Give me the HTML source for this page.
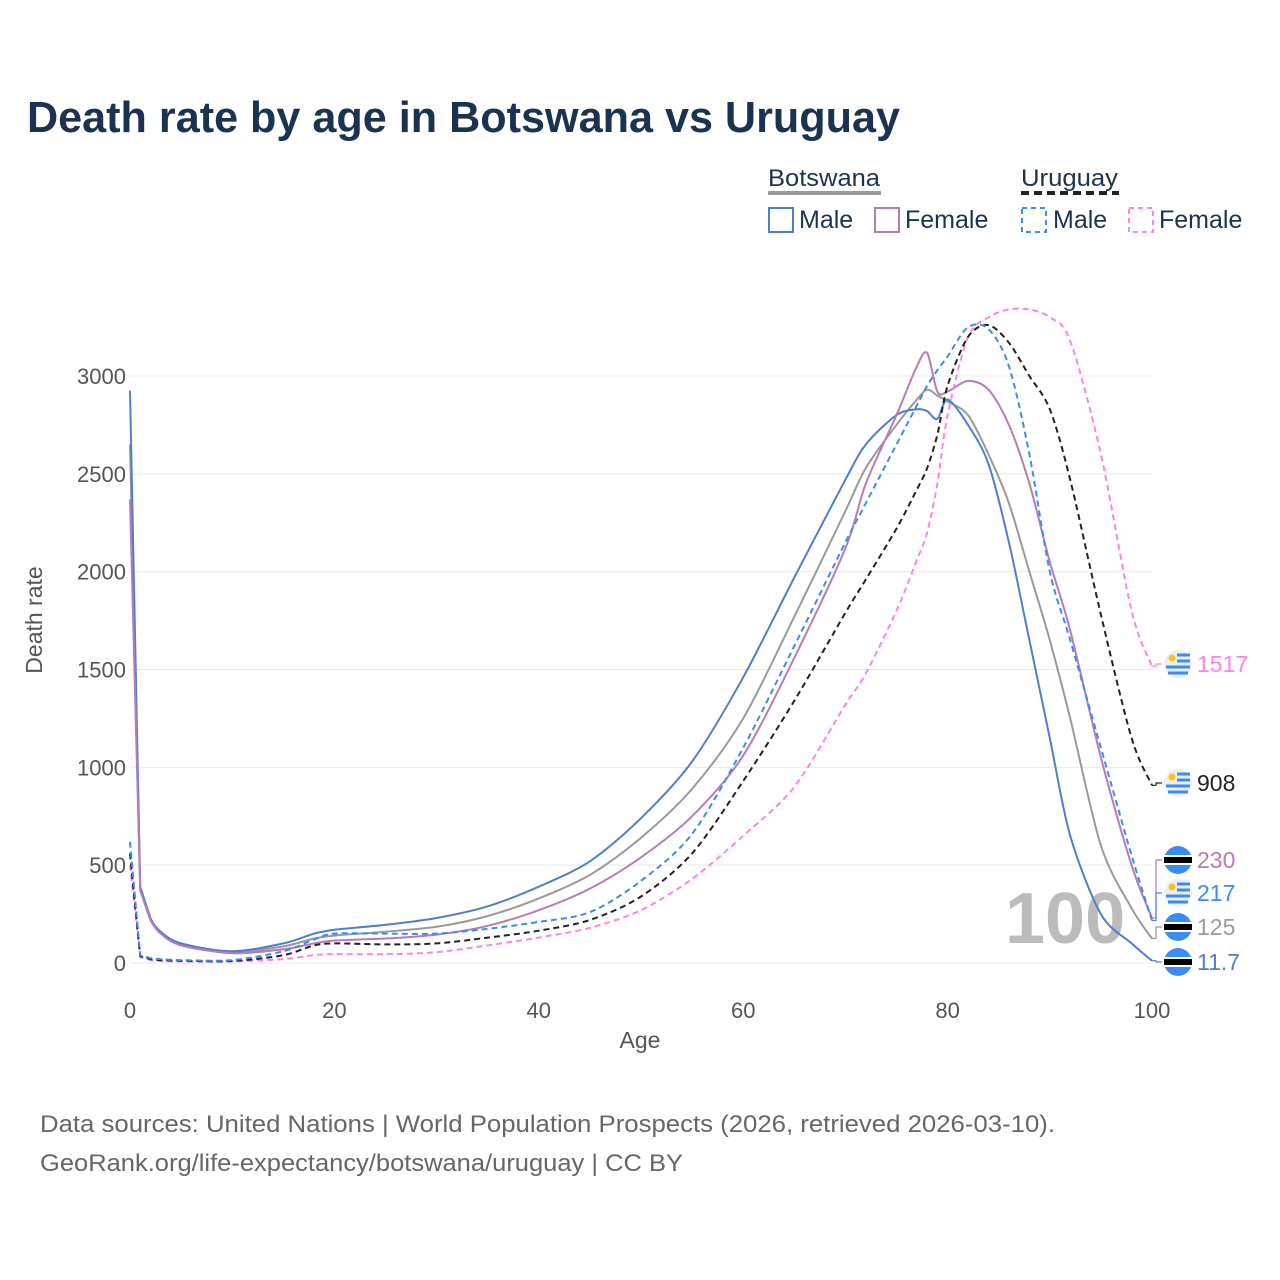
<!DOCTYPE html>
<html><head><meta charset="utf-8"><style>
body{margin:0;background:#fff}
svg{display:block;font-family:"Liberation Sans",sans-serif}
</style></head><body>
<svg id="c" width="1280" height="1280" viewBox="0 0 1280 1280">
<text x="27" y="132" font-size="44" font-weight="bold" fill="#1b3251" textLength="873" lengthAdjust="spacingAndGlyphs">Death rate by age in Botswana vs Uruguay</text>
<g>
<text x="768" y="186" font-size="24" fill="#1b3251" textLength="112" lengthAdjust="spacingAndGlyphs">Botswana</text>
<line x1="768" y1="193" x2="881" y2="193" stroke="#999" stroke-width="4"/>
<text x="1021" y="186" font-size="24" fill="#1b3251" textLength="97" lengthAdjust="spacingAndGlyphs">Uruguay</text>
<line x1="1021" y1="193" x2="1119" y2="193" stroke="#222" stroke-width="4" stroke-dasharray="8,5"/>
<g><rect x="769" y="208" width="24" height="24" fill="none" stroke="#4e7fcf" stroke-width="2"/><text x="799" y="228" font-size="25" fill="#1b3251">Male</text></g>
<g><rect x="875" y="208" width="24" height="24" fill="none" stroke="#b87bb5" stroke-width="2"/><text x="905" y="228" font-size="25" fill="#1b3251">Female</text></g>
<g><rect x="1022" y="208" width="24" height="24" fill="none" stroke="#3a8cf5" stroke-width="2" stroke-dasharray="5,4"/><text x="1053" y="228" font-size="25" fill="#1b3251">Male</text></g>
<g><rect x="1129" y="208" width="24" height="24" fill="none" stroke="#ff80f0" stroke-width="2" stroke-dasharray="5,4"/><text x="1159" y="228" font-size="25" fill="#1b3251">Female</text></g>
</g>
<g id="grid"></g>
<g id="axes"></g>
<text x="1005" y="943" font-size="72" font-weight="bold" fill="#bbb">100</text>
<g id="lines"></g>
<g id="labels"></g>
<text x="42" y="620" font-size="23" fill="#555" text-anchor="middle" transform="rotate(-90 42 620)">Death rate</text>
<text x="640" y="1048" font-size="23" fill="#555" text-anchor="middle">Age</text>
<text x="40" y="1132" font-size="24" fill="#666" textLength="1015" lengthAdjust="spacingAndGlyphs">Data sources: United Nations | World Population Prospects (2026, retrieved 2026-03-10).</text>
<text x="40" y="1171" font-size="24" fill="#666" textLength="643" lengthAdjust="spacingAndGlyphs">GeoRank.org/life-expectancy/botswana/uruguay | CC BY</text>
</svg>
<script>
const ages=[0,1,2,3,5,10,15,18,20,25,30,35,40,45,50,55,60,65,70,72,75,77,78,79,80,82,84,86,88,90,92,95,98,100];
const bwMale=[2925,390,230,160,100,60,100,150,170,195,230,290,390,520,740,1030,1460,1970,2470,2650,2800,2830,2820,2780,2880,2750,2550,2150,1650,1150,650,250,100,11.7];
const bwFemale=[2370,370,220,150,90,50,70,100,115,125,145,190,270,380,540,750,1060,1560,2120,2450,2800,3050,3117,2920,2920,2975,2930,2750,2450,2050,1700,1050,500,230];
const bwTotal=[2650,380,225,155,95,55,85,125,140,160,185,240,330,450,640,890,1250,1770,2310,2530,2750,2880,2930,2900,2870,2800,2600,2350,2000,1650,1250,600,280,125];
const uyMale=[620,40,25,20,15,15,60,120,150,150,150,175,210,260,420,660,1100,1620,2150,2350,2650,2850,2950,3030,3100,3250,3240,3050,2600,2000,1650,1100,550,217];
const uyTotal=[560,35,20,15,12,10,40,90,100,95,100,130,165,220,340,560,930,1340,1790,1960,2220,2420,2530,2700,2950,3200,3260,3170,3000,2830,2470,1780,1150,908];
const uyFemale=[500,30,15,10,8,8,20,40,45,45,55,90,130,180,270,430,650,900,1320,1480,1800,2060,2200,2450,2800,3200,3300,3340,3340,3300,3180,2600,1800,1517];
const yTicks=[0,500,1000,1500,2000,2500,3000];
const xTicks=[0,20,40,60,80,100];
const X=a=>130+a*10.22, Y=v=>963-v*0.19567;
const NS="http://www.w3.org/2000/svg";
function mk(t,p,at){const e=document.createElementNS(NS,t);for(const k in at)e.setAttribute(k,at[k]);document.getElementById(p).appendChild(e);return e;}
function smooth(pts){let d='M'+pts[0][0].toFixed(1)+','+pts[0][1].toFixed(1);
 for(let i=0;i<pts.length-1;i++){const p0=pts[Math.max(0,i-1)],p1=pts[i],p2=pts[i+1],p3=pts[Math.min(pts.length-1,i+2)];
  if(i<2){d+='L'+p2[0].toFixed(1)+','+p2[1].toFixed(1);continue;}
  const t=0.15;const c1=[p1[0]+(p2[0]-p0[0])*t,p1[1]+(p2[1]-p0[1])*t],c2=[p2[0]-(p3[0]-p1[0])*t,p2[1]-(p3[1]-p1[1])*t];
  d+='C'+c1.map(v=>v.toFixed(1))+' '+c2.map(v=>v.toFixed(1))+' '+p2[0].toFixed(1)+','+p2[1].toFixed(1);}
 return d;}
yTicks.forEach(v=>{const l=mk('line','grid',{x1:130,x2:1152,y1:Y(v),y2:Y(v),stroke:'#e8e8e8','stroke-width':1});


const t=mk('text','axes',{x:126,y:Y(v)+8,'font-size':22,fill:'#555','text-anchor':'end'});t.textContent=v;

});
xTicks.forEach(a=>{const t=mk('text','axes',{x:X(a),y:1018,'font-size':22,fill:'#555','text-anchor':'middle'});t.textContent=a;

});
const series=[
{n:'line-botswana-total',d:bwTotal,c:'#999',da:'',lbl:927,flag:'bw',txt:'125'},
{n:'line-botswana-male',d:bwMale,c:'#4e7fcf',da:'',lbl:962,flag:'bw',txt:'11.7'},
{n:'line-botswana-female',d:bwFemale,c:'#b87bb5',da:'',lbl:860,flag:'bw',txt:'230'},
{n:'line-uruguay-female',d:uyFemale,c:'#ff80f0',da:'6,4',lbl:664,flag:'uy',txt:'1517'},
{n:'line-uruguay-total',d:uyTotal,c:'#222',da:'6,4',lbl:783,flag:'uy',txt:'908'},
{n:'line-uruguay-male',d:uyMale,c:'#3a8cf5',da:'6,4',lbl:893,flag:'uy',txt:'217'}];
series.forEach(s=>{
 const p=mk('path','lines',{d:smooth(s.d.map((v,i)=>[X(ages[i]),Y(v)])),fill:'none',stroke:s.c,'stroke-width':2,'stroke-dasharray':s.da,'stroke-linejoin':'round'});
 
 
 const ey=Y(s.d[s.d.length-1]);
 const cn=mk('path','labels',{d:`M1152,${ey}L1156,${ey}L1156,${s.lbl}L1162,${s.lbl}`,fill:'none',stroke:s.c,'stroke-width':1.2});
 
 
 const cx=1178,cy=s.lbl;
 if(s.flag==='bw'){
  mk('circle','labels',{cx,cy,r:14,fill:'#3a8cf5'});
  mk('rect','labels',{x:cx-14,y:cy-5,width:28,height:10,fill:'#fff'});
  mk('rect','labels',{x:cx-14,y:cy-3,width:28,height:6,fill:'#000'});
 }else{
  mk('circle','labels',{cx,cy,r:14,fill:'#eeeeee'});
  [[-9,-5],[-3,-12],[3,-12],[9,-10]].forEach(o=>mk('rect','labels',{x:cx+(o[0]<0?-1:o[1]),y:cy+o[0]-1.5,width:(o[0]<0?13:-2*o[1]),height:3,fill:'#3a8cf5'}));
  mk('circle','labels',{cx:cx-6,cy:cy-6,r:3.5,fill:'#f5c518'});
 }
 const t=mk('text','labels',{x:1197,y:s.lbl+8,'font-size':23,fill:s.c});t.textContent=s.txt;
 
 
});
</script>
</body></html>
